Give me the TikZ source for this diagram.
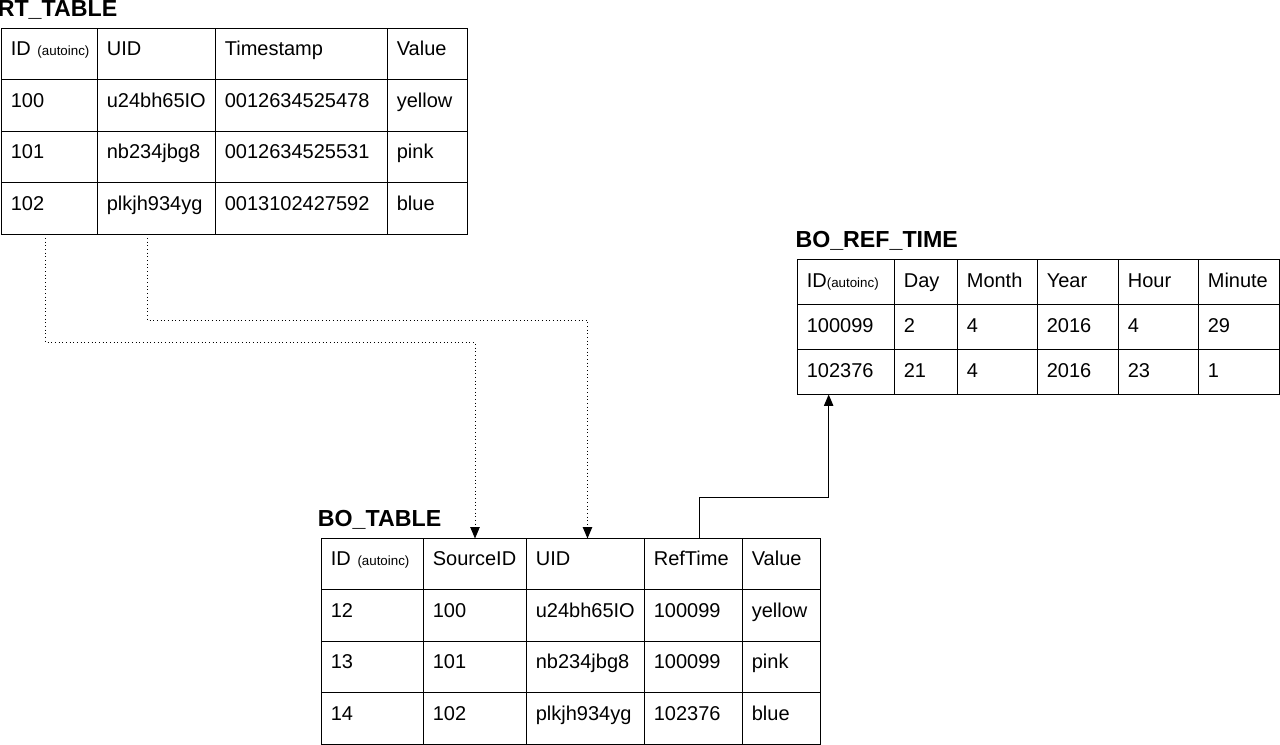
\documentclass[tikz,border=0pt]{standalone}
\usepackage{fontspec}
\setmainfont{Liberation Sans}
\usepackage{tikz}
\usetikzlibrary{matrix}
\usetikzlibrary{arrows.meta}
\usetikzlibrary{positioning}
\newcommand{\tabfont}{\fontsize{15pt}{17pt}\selectfont}
\newcommand{\headfont}{\fontsize{17.4pt}{20pt}\selectfont\bfseries}
\newcommand{\autoinc}{\mbox{\fontsize{10pt}{12pt}\selectfont(autoinc)}}

\begin{document}
\begin{tikzpicture}[x=0.75pt,y=-0.75pt,
  cell/.style={draw,line width=0.75pt,inner xsep=7pt,inner ysep=0pt,align=left,font=\tabfont,
    text height=11pt,text depth=8.4pt,minimum height=38.6pt},
  tab/.style={matrix of nodes,nodes={cell},inner sep=0pt,outer sep=0pt,
    column sep=-0.75pt,row sep=-0.75pt,anchor=north west},
  tabtitle/.style={font=\headfont,inner sep=0pt},
  link/.style={line width=0.75pt,-{Triangle[length=8.5pt,width=7pt]}}]
  \useasboundingbox (0,0) rectangle (1280,745);

  \matrix (rt) at (1,28) [tab,
    column 1/.style={nodes={text width=58pt}},
    column 2/.style={nodes={text width=74.5pt}},
    column 3/.style={nodes={text width=115pt}},
    column 4/.style={nodes={text width=46pt}}]{
    ID~\autoinc & UID & Timestamp & Value\\
    100 & u24bh65IO & 0012634525478 & yellow\\
    101 & nb234jbg8 & 0012634525531 & pink\\
    102 & plkjh934yg & 0013102427592 & blue\\
  };
  \node (rttitle) [tabtitle,above right=8.4pt and -2.6pt of rt.north west,anchor=base west]{RT\_TABLE};

  \matrix (brt) at (797,259) [tab,
    nodes={text height=11.5pt,text depth=3.2pt,minimum height=33.75pt},
    column 1/.style={nodes={text width=58.75pt}},
    column 2/.style={nodes={text width=33.25pt}},
    column 3/.style={nodes={text width=46pt}},
    column 4/.style={nodes={text width=46.75pt}},
    column 5/.style={nodes={text width=46pt}},
    column 6/.style={nodes={text width=46.75pt}}]{
    ID\autoinc & Day & Month & Year & Hour & Minute\\
    100099 & 2 & 4 & 2016 & 4 & 29\\
    102376 & 21 & 4 & 2016 & 23 & 1\\
  };
  \node (brttitle) [tabtitle,above right=8.4pt and -1.3pt of brt.north west,anchor=base west]{BO\_REF\_TIME};

  \matrix (bo) at (321,538) [tab,
    column 1/.style={nodes={text width=62.5pt}},
    column 2/.style={nodes={text width=63.25pt}},
    column 3/.style={nodes={text width=74.5pt}},
    column 4/.style={nodes={text width=59.5pt}},
    column 5/.style={nodes={text width=44.5pt}}]{
    ID~\autoinc & SourceID & UID & RefTime & Value\\
    12 & 100 & u24bh65IO & 100099 & yellow\\
    13 & 101 & nb234jbg8 & 100099 & pink\\
    14 & 102 & plkjh934yg & 102376 & blue\\
  };
  \node (botitle) [tabtitle,above right=9pt and -2.5pt of bo.north west,anchor=base west]{BO\_TABLE};

  \draw[link,dotted]([xshift=-3pt]rt-4-1.south)--++(0,108)-|(bo-1-2.north);
  \draw[link,dotted]([xshift=-6.75pt]rt-4-2.south)--++(0,86)-|([xshift=1.5pt]bo-1-3.north);
  \draw[link]([xshift=4.5pt]bo-1-4.north)--++(0,-41)-|([xshift=-13pt]brt-3-1.south);
\end{tikzpicture}
\end{document}
